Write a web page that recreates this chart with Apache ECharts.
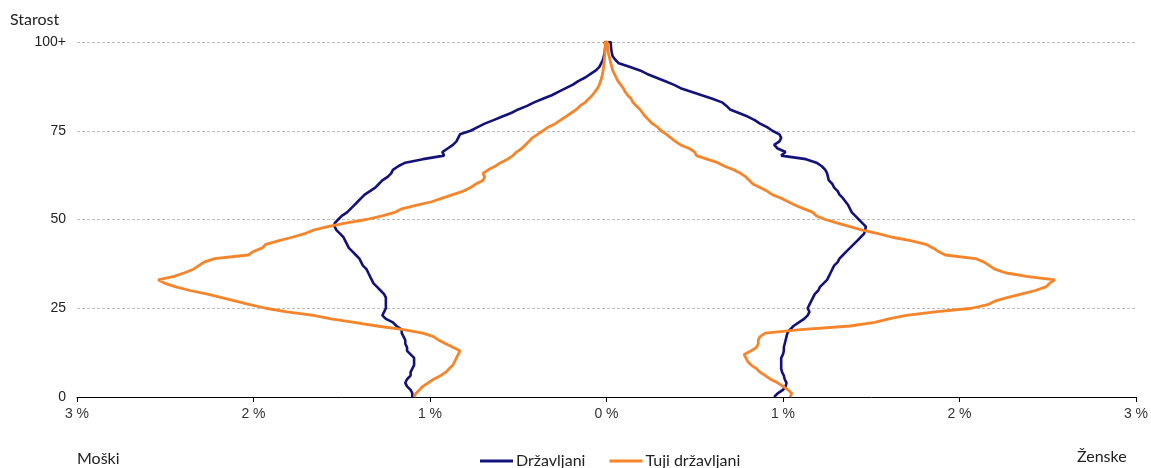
<!DOCTYPE html>
<html>
<head>
<meta charset="utf-8">
<script src="https://cdn.jsdelivr.net/npm/echarts@6/dist/echarts.min.js"></script>
<style>html,body{margin:0;padding:0;background:#fff}#c{width:1151px;height:468px}</style>
</head>
<body>
<div id="c"></div>
<script>
// Ages 0..100 (100 = 100+), share of population in %
const ages = Array.from({length: 101}, (_, i) => i);
const xTicks = [-3, -2, -1, 0, 1, 2, 3];
const yTicks = [0, 25, 50, 75, 100];
const seriesNames = ['Državljani', 'Tuji državljani'];

const maleCitizens = [1.10,1.10,1.11,1.13,1.14,1.13,1.11,1.11,1.10,1.09,1.09,1.09,1.11,1.13,1.13,1.14,1.14,1.15,1.16,1.16,
1.19,1.21,1.25,1.27,1.26,1.25,1.25,1.25,1.25,1.26,1.28,1.30,1.32,1.33,1.34,1.35,1.36,1.38,1.39,1.40,
1.42,1.44,1.46,1.47,1.48,1.49,1.51,1.53,1.54,1.54,1.52,1.50,1.47,1.45,1.43,1.41,1.39,1.37,1.34,1.31,
1.29,1.27,1.24,1.22,1.21,1.18,1.14,1.04,0.92,0.93,0.90,0.87,0.85,0.84,0.83,0.77,0.73,0.69,0.64,0.59,
0.54,0.50,0.45,0.41,0.36,0.31,0.27,0.23,0.19,0.16,0.12,0.09,0.06,0.04,0.03,0.02,0.015,0.01,0.008,0.006,0.01];

const maleForeigners = [1.09,1.08,1.06,1.04,1.01,0.98,0.94,0.91,0.89,0.87,0.86,0.85,0.84,0.83,0.87,0.91,0.95,0.98,1.04,1.15,
1.30,1.43,1.56,1.66,1.81,1.93,2.02,2.10,2.18,2.26,2.36,2.44,2.50,2.54,2.45,2.39,2.34,2.31,2.28,2.22,
2.03,2.00,1.95,1.93,1.86,1.78,1.71,1.66,1.58,1.48,1.36,1.27,1.20,1.16,1.08,0.99,0.93,0.87,0.81,0.77,
0.74,0.70,0.69,0.70,0.67,0.63,0.60,0.56,0.53,0.51,0.48,0.46,0.44,0.42,0.39,0.36,0.33,0.29,0.26,0.23,
0.20,0.17,0.15,0.12,0.10,0.08,0.065,0.05,0.04,0.033,0.027,0.022,0.019,0.016,0.014,0.012,0.01,0.009,0.008,0.007,0.008];

const femaleCitizens = [0.95,0.97,1.00,1.015,1.02,1.01,1.005,0.995,0.99,0.99,0.99,0.99,1.00,1.005,1.005,1.01,1.015,1.02,1.025,1.04,
1.06,1.09,1.12,1.14,1.15,1.14,1.15,1.16,1.17,1.18,1.20,1.21,1.23,1.25,1.26,1.27,1.28,1.29,1.31,1.32,
1.34,1.36,1.38,1.40,1.42,1.44,1.46,1.465,1.47,1.45,1.43,1.41,1.39,1.38,1.37,1.355,1.34,1.32,1.31,1.29,
1.28,1.26,1.255,1.25,1.24,1.22,1.19,1.13,0.99,1.015,0.97,0.95,0.98,0.99,0.98,0.94,0.91,0.87,0.84,0.80,
0.75,0.70,0.68,0.655,0.60,0.54,0.48,0.42,0.38,0.33,0.28,0.23,0.19,0.13,0.07,0.05,0.035,0.03,0.027,0.025,0.024];

const femaleForeigners = [1.04,1.05,1.03,1.00,0.97,0.93,0.90,0.87,0.85,0.82,0.80,0.79,0.78,0.82,0.85,0.86,0.86,0.87,0.90,1.10,
1.38,1.52,1.60,1.70,1.86,2.07,2.16,2.20,2.27,2.35,2.43,2.49,2.51,2.54,2.38,2.26,2.20,2.17,2.14,2.09,
1.92,1.88,1.85,1.81,1.73,1.62,1.54,1.45,1.38,1.31,1.24,1.19,1.17,1.12,1.07,1.03,0.99,0.94,0.91,0.87,
0.83,0.81,0.79,0.76,0.72,0.67,0.63,0.57,0.51,0.50,0.47,0.42,0.39,0.365,0.34,0.31,0.29,0.26,0.24,0.22,
0.205,0.19,0.17,0.15,0.14,0.12,0.105,0.095,0.08,0.065,0.055,0.045,0.035,0.03,0.025,0.02,0.015,0.01,0.008,0.006,0.005];

function pyramid(male, female) {
  const pts = [];
  ages.forEach((a, i) => pts.push([-male[i], a]));
  for (let i = ages.length - 1; i >= 0; i--) pts.push([female[i], ages[i]]);
  return pts;
}

const FONT = '"Liberation Sans", Arial, sans-serif';
const TFONT = 'Lato, "Open Sans", sans-serif';
const chart = echarts.init(document.getElementById('c'), null, {renderer: 'canvas'});
chart.setOption({
  animation: false,
  backgroundColor: '#ffffff',
  grid: {left: 77, right: 14, top: 42, bottom: 71, containLabel: false},
  xAxis: {
    type: 'value', min: xTicks[0], max: xTicks[xTicks.length - 1], interval: 1,
    axisLine: {show: true, onZero: false, lineStyle: {color: '#000', width: 1}},
    axisTick: {show: true, length: 5, lineStyle: {color: '#000'}},
    splitLine: {show: false},
    axisLabel: {color: '#333', fontSize: 14, fontFamily: FONT, margin: 10,
      formatter: v => Math.abs(v) + ' %'}
  },
  yAxis: {
    type: 'value', min: yTicks[0], max: yTicks[yTicks.length - 1], interval: 25,
    axisLine: {show: false}, axisTick: {show: false},
    splitLine: {show: true, lineStyle: {color: '#bdbdbd', type: [3, 2], width: 1}},
    axisLabel: {color: '#222', fontSize: 14, fontFamily: FONT, margin: 11,
      formatter: v => v === 100 ? '100+' : String(v)}
  },
  legend: {
    data: seriesNames, left: 475, top: 448,
    itemWidth: 33, itemHeight: 10, itemGap: 24,
    icon: 'path://M0,4 L33,4 L33,7 L0,7 Z',
    textStyle: {color: '#222', fontSize: 16, fontFamily: TFONT, padding: [0, 0, 0, -2]}
  },
  graphic: [
    {type: 'text', left: 10, top: 12, style: {text: 'Starost', fill: '#222', font: '16px ' + TFONT}},
    {type: 'text', left: 77, top: 451, style: {text: 'Moški', fill: '#222', font: '16px ' + TFONT}},
    {type: 'text', left: 1077, top: 449, style: {text: 'Ženske', fill: '#222', font: '16px ' + TFONT}}
  ],
  series: [
    {name: seriesNames[0], type: 'line', data: pyramid(maleCitizens, femaleCitizens),
     showSymbol: false, symbol: 'none', smooth: false,
     lineStyle: {color: '#14127a', width: 2.6}, itemStyle: {color: '#14127a'}},
    {name: seriesNames[1], type: 'line', data: pyramid(maleForeigners, femaleForeigners),
     showSymbol: false, symbol: 'none', smooth: false,
     lineStyle: {color: '#f5842b', width: 2.8}, itemStyle: {color: '#f5842b'}}
  ]
});
</script>
</body>
</html>
